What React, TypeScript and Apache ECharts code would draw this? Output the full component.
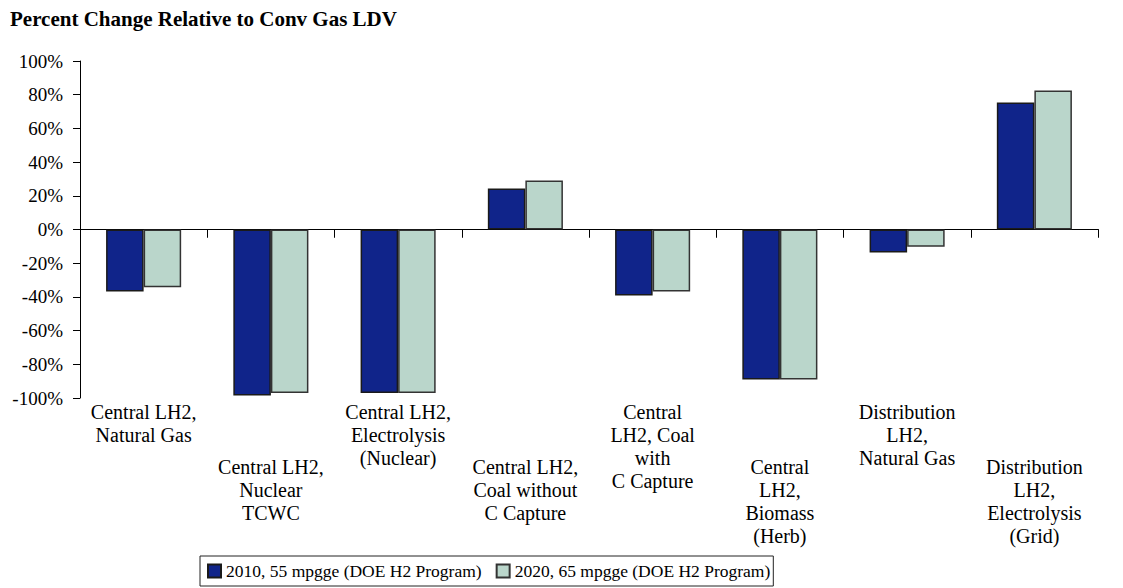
import React, { useEffect, useRef } from "react";
import * as echarts from "echarts";

const categories = [
  "Central LH2,\nNatural Gas",
  "Central LH2,\nNuclear\nTCWC",
  "Central LH2,\nElectrolysis\n(Nuclear)",
  "Central LH2,\nCoal without\nC Capture",
  "Central\nLH2, Coal\nwith\nC Capture",
  "Central\nLH2,\nBiomass\n(Herb)",
  "Distribution\nLH2,\nNatural Gas",
  "Distribution\nLH2,\nElectrolysis\n(Grid)",
];

const series2010 = [-36.8, -98.5, -97, 24.4, -39.2, -89, -13.7, 75.3];
const series2020 = [-34.2, -97, -97, 29.1, -36.8, -89, -10.2, 82.5];

const seriesNames = [
  "2010, 55 mpgge (DOE H2 Program)",
  "2020, 65 mpgge (DOE H2 Program)",
];

const yTicks = { min: -100, max: 100, interval: 20 };

const FONT = "'Liberation Serif', 'Times New Roman', serif";

export default function App() {
  const ref = useRef<HTMLDivElement>(null);

  useEffect(() => {
    if (!ref.current) return;
    const chart = echarts.init(ref.current, null, { renderer: "svg" });
    const baseX = {
      type: "category",
      data: categories,
      boundaryGap: true,
      gridIndex: 0,
    };
    const baseY = {
      type: "value",
      min: yTicks.min,
      max: yTicks.max,
      interval: yTicks.interval,
      splitLine: { show: false },
    };
    chart.setOption({
      animation: false,
      backgroundColor: "#ffffff",
      title: {
        text: "Percent Change Relative to Conv Gas LDV",
        left: 10,
        top: 8,
        padding: 0,
        textStyle: {
          fontFamily: FONT,
          fontWeight: "bold",
          fontSize: 21,
          color: "#000",
        },
      },
      legend: {
        left: 200,
        top: 556,
        orient: "horizontal",
        data: seriesNames,
        itemWidth: 13,
        itemHeight: 13,
        itemGap: 14,
        padding: [6, 3, 6, 7],
        borderColor: "#222",
        borderWidth: 1,
        icon: "rect",
        textStyle: { fontFamily: FONT, fontSize: 17.5, color: "#000" },
      },
      grid: { left: 80, right: 25, top: 61, bottom: 190, containLabel: false },
      xAxis: [
        {
          ...baseX,
          position: "bottom",
          axisLine: { onZero: true, onZeroAxisIndex: 0, lineStyle: { color: "#000", width: 1 } },
          axisTick: { show: true, inside: false, length: 8, lineStyle: { color: "#000" } },
          axisLabel: { show: false },
          splitLine: { show: false },
        },
        {
          ...baseX,
          position: "top",
          axisLine: { onZero: true, onZeroAxisIndex: 1, lineStyle: { color: "#000", width: 1 } },
          axisTick: { show: true, inside: true, length: 8, lineStyle: { color: "#000" } },
          axisLabel: { show: false },
          splitLine: { show: false },
        },
        {
          ...baseX,
          position: "bottom",
          axisLine: { show: false, onZero: false },
          axisTick: { show: false },
          splitLine: { show: false },
          axisLabel: {
            show: true,
            interval: 0,
            margin: 2,
            verticalAlign: "top",
            formatter: (value: string, index: number) => {
              const lines = value.split("\n").map((l) => `{t|${l}}`).join("\n");
              return index % 2 === 1 ? `{g| }\n${lines}` : lines;
            },
            rich: {
              t: {
                fontFamily: FONT,
                fontSize: 20,
                lineHeight: 23,
                color: "#000",
                align: "center",
              },
              g: { fontSize: 1, lineHeight: 55 },
            },
          },
        },
      ],
      yAxis: [
        {
          ...baseY,
          position: "left",
          axisLine: { show: true, onZero: false, lineStyle: { color: "#000", width: 1 } },
          axisTick: { show: true, inside: false, length: 7, lineStyle: { color: "#000" } },
          axisLabel: {
            formatter: "{value}%",
            fontFamily: FONT,
            fontSize: 19,
            color: "#000",
            margin: 17,
          },
        },
        {
          ...baseY,
          position: "right",
          show: false,
          axisLine: { show: false, onZero: false },
          axisTick: { show: false },
          axisLabel: { show: false },
        },
      ],
      series: [
        {
          name: seriesNames[0],
          type: "bar",
          xAxisIndex: 0,
          yAxisIndex: 0,
          data: series2010,
          barGap: "0%",
          barCategoryGap: "41%",
          itemStyle: { color: "#10248A", borderColor: "#1a1a1a", borderWidth: 1.5 },
        },
        {
          name: seriesNames[1],
          type: "bar",
          xAxisIndex: 0,
          yAxisIndex: 0,
          data: series2020,
          barGap: "0%",
          barCategoryGap: "41%",
          itemStyle: { color: "#BAD6CB", borderColor: "#333", borderWidth: 1.5 },
        },
      ],
    });
    return () => chart.dispose();
  }, []);

  return (
    <div
      ref={ref}
      style={{ position: "fixed", left: 0, top: 0, width: 1123, height: 588 }}
    />
  );
}
